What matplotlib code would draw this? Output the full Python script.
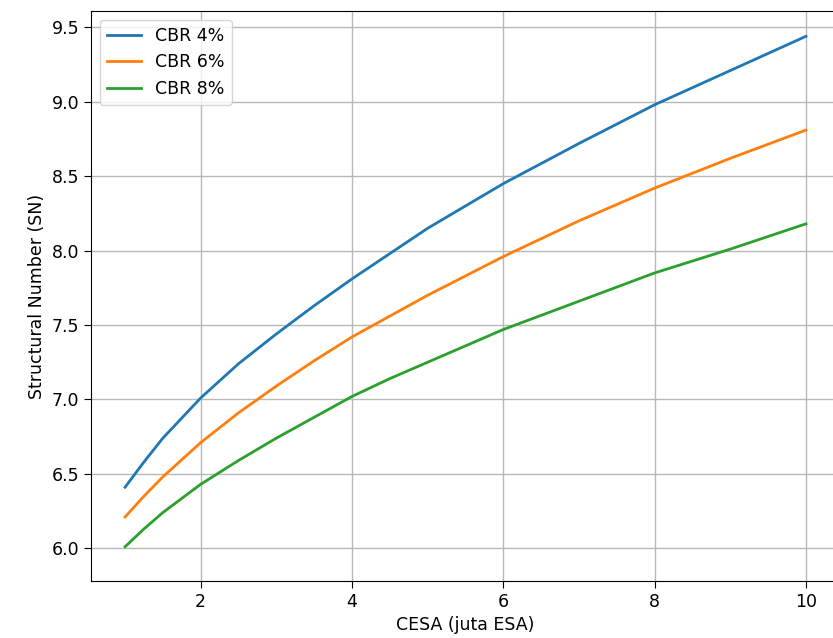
import matplotlib
matplotlib.use('Agg')
import matplotlib.pyplot as plt

# CESA (juta ESA)
cesa = [1, 1.25, 1.5, 2, 2.5, 3, 3.5, 4, 4.5, 5, 6, 7, 8, 9, 10]

# Structural Number per CBR
sn_cbr4 = [6.41, 6.58, 6.74, 7.01, 7.24, 7.44, 7.63, 7.81, 7.98, 8.15,
           8.45, 8.72, 8.98, 9.21, 9.44]
sn_cbr6 = [6.21, 6.35, 6.48, 6.71, 6.91, 7.09, 7.26, 7.42, 7.56, 7.70,
           7.96, 8.20, 8.42, 8.62, 8.81]
sn_cbr8 = [6.01, 6.13, 6.24, 6.43, 6.59, 6.74, 6.88, 7.02, 7.14, 7.25,
           7.47, 7.66, 7.85, 8.01, 8.18]

labels = ['CBR 4%', 'CBR 6%', 'CBR 8%']

fig = plt.figure(figsize=(8.33, 6.38), dpi=100)
ax = fig.add_axes([91 / 833, 57 / 638, 749 / 833, 570 / 638])

for sn, lab in zip([sn_cbr4, sn_cbr6, sn_cbr8], labels):
    ax.plot(cesa, sn, label=lab, linewidth=2)

ax.set_xlim(0.55, 10.45)
ax.set_ylim(5.78, 9.61)
ax.set_xticks([2, 4, 6, 8, 10])
ax.set_yticks([6.0, 6.5, 7.0, 7.5, 8.0, 8.5, 9.0, 9.5])
ax.tick_params(labelsize=12.5, length=5)
ax.set_xlabel('CESA (juta ESA)', fontsize=12.5)
ax.set_ylabel('Structural Number (SN)', fontsize=12.5)
ax.grid(True, linewidth=1.0, color='#b8b8b8')
ax.legend(loc='upper left', fontsize=12.5)

fig.savefig('out.png', dpi=100)
